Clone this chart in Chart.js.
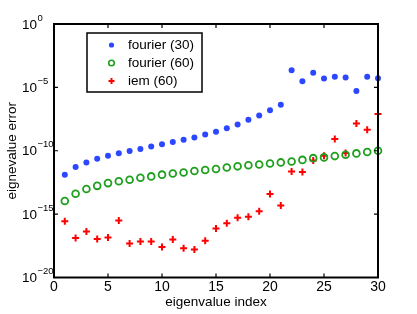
<!DOCTYPE html>
<html>
<head>
<meta charset="utf-8">
<script src="https://cdn.jsdelivr.net/npm/chart.js@4.4.0/dist/chart.umd.min.js"></script>
<style>
  html, body { margin: 0; padding: 0; background: #fff; }
  #wrap { width: 417px; height: 314px; }
</style>
</head>
<body>
<div id="wrap"><canvas id="errChart" width="417" height="314"></canvas></div>
<script>
// eigenvalue index
const idx = [1, 2, 3, 4, 5, 6, 7, 8, 9, 10, 11, 12, 13, 14, 15,
             16, 17, 18, 19, 20, 21, 22, 23, 24, 25, 26, 27, 28, 29, 30];

const fourier30 = [1.3e-12, 5.2e-12, 1.2e-11, 2.3e-11, 4.1e-11, 6.3e-11, 9.5e-11, 1.4e-10, 2.2e-10, 3.2e-10,
                   4.9e-10, 7.4e-10, 1.1e-9, 1.9e-9, 3.2e-9, 5.9e-9, 1.2e-8, 2.8e-8, 6.0e-8, 1.6e-7,
                   4.2e-7, 2.2e-4, 3.1e-5, 1.4e-4, 5.0e-5, 6.8e-5, 5.9e-5, 5.2e-6, 6.8e-5, 5.2e-5];

const fourier60 = [1.1e-14, 4.1e-14, 9.5e-14, 1.7e-13, 2.8e-13, 3.9e-13, 5.2e-13, 7.4e-13, 9.5e-13, 1.3e-12,
                   1.6e-12, 1.9e-12, 2.5e-12, 3.0e-12, 3.6e-12, 4.8e-12, 5.9e-12, 7.1e-12, 8.3e-12, 1.0e-11,
                   1.2e-11, 1.4e-11, 1.9e-11, 2.6e-11, 3.0e-11, 3.8e-11, 4.9e-11, 6.2e-11, 7.9e-11, 1.0e-10];

const iem60 = [2.8e-16, 1.3e-17, 4.2e-17, 1.1e-17, 1.4e-17, 3.2e-16, 4.8e-18, 6.8e-18, 6.8e-18, 2.6e-18,
               1.0e-17, 2.0e-18, 1.6e-18, 7.8e-18, 7.2e-17, 1.9e-16, 5.2e-16, 6.3e-16, 1.7e-15, 3.9e-14,
               4.7e-15, 2.3e-12, 2.1e-12, 1.7e-11, 4.1e-11, 8.3e-10, 6.6e-11, 1.4e-8, 4.5e-9, 7.8e-8];

const xTicks = [0, 5, 10, 15, 20, 25, 30];
const yTickExp = [0, -5, -10, -15, -20];

const seriesNames = ['fourier (30)', 'fourier (60)', 'iem (60)'];
const BLUE = '#2b47ff', GREEN = '#1ea01e', RED = '#ff0000';
const FONT = '"Liberation Sans", Arial, Helvetica, sans-serif';

function pts(ys) {
    return idx.map((x, i) => ({ x: x, y: ys[i] }));
}

// frame, inward ticks, tick labels and axis titles, matlab style
const axesPlugin = {
    id: 'matlabAxes',
    afterDatasetsDraw(chart) {
        const ctx = chart.ctx;
        const a = chart.chartArea;
        const xs = chart.scales.x, ys = chart.scales.y;
        ctx.save();
        ctx.strokeStyle = '#000';
        ctx.lineWidth = 1.2;
        // ticks
        xTicks.forEach(function (t) {
            const px = xs.getPixelForValue(t);
            ctx.beginPath();
            ctx.moveTo(px, a.bottom); ctx.lineTo(px, a.bottom - 4);
            ctx.moveTo(px, a.top); ctx.lineTo(px, a.top + 4);
            ctx.stroke();
        });
        yTickExp.forEach(function (e) {
            const py = ys.getPixelForValue(Math.pow(10, e));
            ctx.beginPath();
            ctx.moveTo(a.left, py); ctx.lineTo(a.left + 4, py);
            ctx.moveTo(a.right, py); ctx.lineTo(a.right - 4, py);
            ctx.stroke();
        });
        // box
        ctx.lineWidth = 2;
        ctx.strokeRect(a.left, a.top, a.right - a.left, a.bottom - a.top);

        ctx.fillStyle = '#000';
        // x tick labels
        ctx.font = '14px ' + FONT;
        ctx.textAlign = 'center';
        ctx.textBaseline = 'top';
        xTicks.forEach(function (t) {
            ctx.fillText(String(t), xs.getPixelForValue(t), a.bottom + 3);
        });
        // y tick labels 10^e
        yTickExp.forEach(function (e) {
            const py = ys.getPixelForValue(Math.pow(10, e));
            ctx.font = '13.5px ' + FONT;
            ctx.textAlign = 'left';
            ctx.textBaseline = 'middle';
            ctx.fillText('10', 22, py + 1);
            const w = ctx.measureText('10').width;
            ctx.font = '9.5px ' + FONT;
            ctx.fillText(e === 0 ? '0' : '\u2212' + (-e), 22 + w + 0.5, py - 6);
        });
        // axis titles
        ctx.font = '13.5px ' + FONT;
        ctx.textAlign = 'center';
        ctx.textBaseline = 'middle';
        ctx.fillText('eigenvalue index', (a.left + a.right) / 2, 302);
        ctx.translate(12, (a.top + a.bottom) / 2);
        ctx.rotate(-Math.PI / 2);
        ctx.fillText('eignevalue error', 0, 0);
        ctx.restore();
    },
    afterDraw(chart) {
        // legend box
        const ctx = chart.ctx;
        ctx.save();
        ctx.fillStyle = '#fff';
        ctx.fillRect(87, 33, 115, 59);
        ctx.strokeStyle = '#000';
        ctx.lineWidth = 1.5;
        ctx.strokeRect(87, 33, 115, 59);
        const rows = [45, 63, 81];
        const mx = 111.5;
        // blue dot
        ctx.fillStyle = BLUE;
        ctx.beginPath(); ctx.arc(mx, rows[0], 2.6, 0, Math.PI * 2); ctx.fill();
        // green ring
        ctx.strokeStyle = GREEN; ctx.lineWidth = 1.6;
        ctx.beginPath(); ctx.arc(mx, rows[1], 2.8, 0, Math.PI * 2); ctx.stroke();
        // red plus
        ctx.strokeStyle = RED; ctx.lineWidth = 2;
        ctx.beginPath();
        ctx.moveTo(mx - 3, rows[2]); ctx.lineTo(mx + 3, rows[2]);
        ctx.moveTo(mx, rows[2] - 3); ctx.lineTo(mx, rows[2] + 3);
        ctx.stroke();
        ctx.fillStyle = '#000';
        ctx.font = '13.5px ' + FONT;
        ctx.textAlign = 'left';
        ctx.textBaseline = 'middle';
        seriesNames.forEach(function (n, i) {
            ctx.fillText(n, 128, rows[i] + 0.5);
        });
        ctx.restore();
    }
};

new Chart(document.getElementById('errChart'), {
    type: 'scatter',
    data: {
        datasets: [{
            label: seriesNames[0],
            data: pts(fourier30),
            pointStyle: 'circle',
            pointRadius: 3,
            borderWidth: 0,
            backgroundColor: BLUE,
            borderColor: BLUE,
            clip: false
        }, {
            label: seriesNames[1],
            data: pts(fourier60),
            pointStyle: 'circle',
            pointRadius: 3.4,
            borderWidth: 1.8,
            backgroundColor: 'rgba(0,0,0,0)',
            borderColor: GREEN,
            clip: false
        }, {
            label: seriesNames[2],
            data: pts(iem60),
            pointStyle: 'cross',
            pointRadius: 3.5,
            borderWidth: 2,
            borderColor: RED,
            backgroundColor: RED,
            clip: false
        }]
    },
    options: {
        responsive: false,
        animation: false,
        layout: { padding: { left: 54, top: 24, right: 39, bottom: 36.5 } },
        plugins: { legend: { display: false }, tooltip: { enabled: false } },
        scales: {
            x: { type: 'linear', min: 0, max: 30, display: false },
            y: { type: 'logarithmic', min: 1e-20, max: 1, display: false }
        }
    },
    plugins: [axesPlugin]
});
</script>
</body>
</html>
